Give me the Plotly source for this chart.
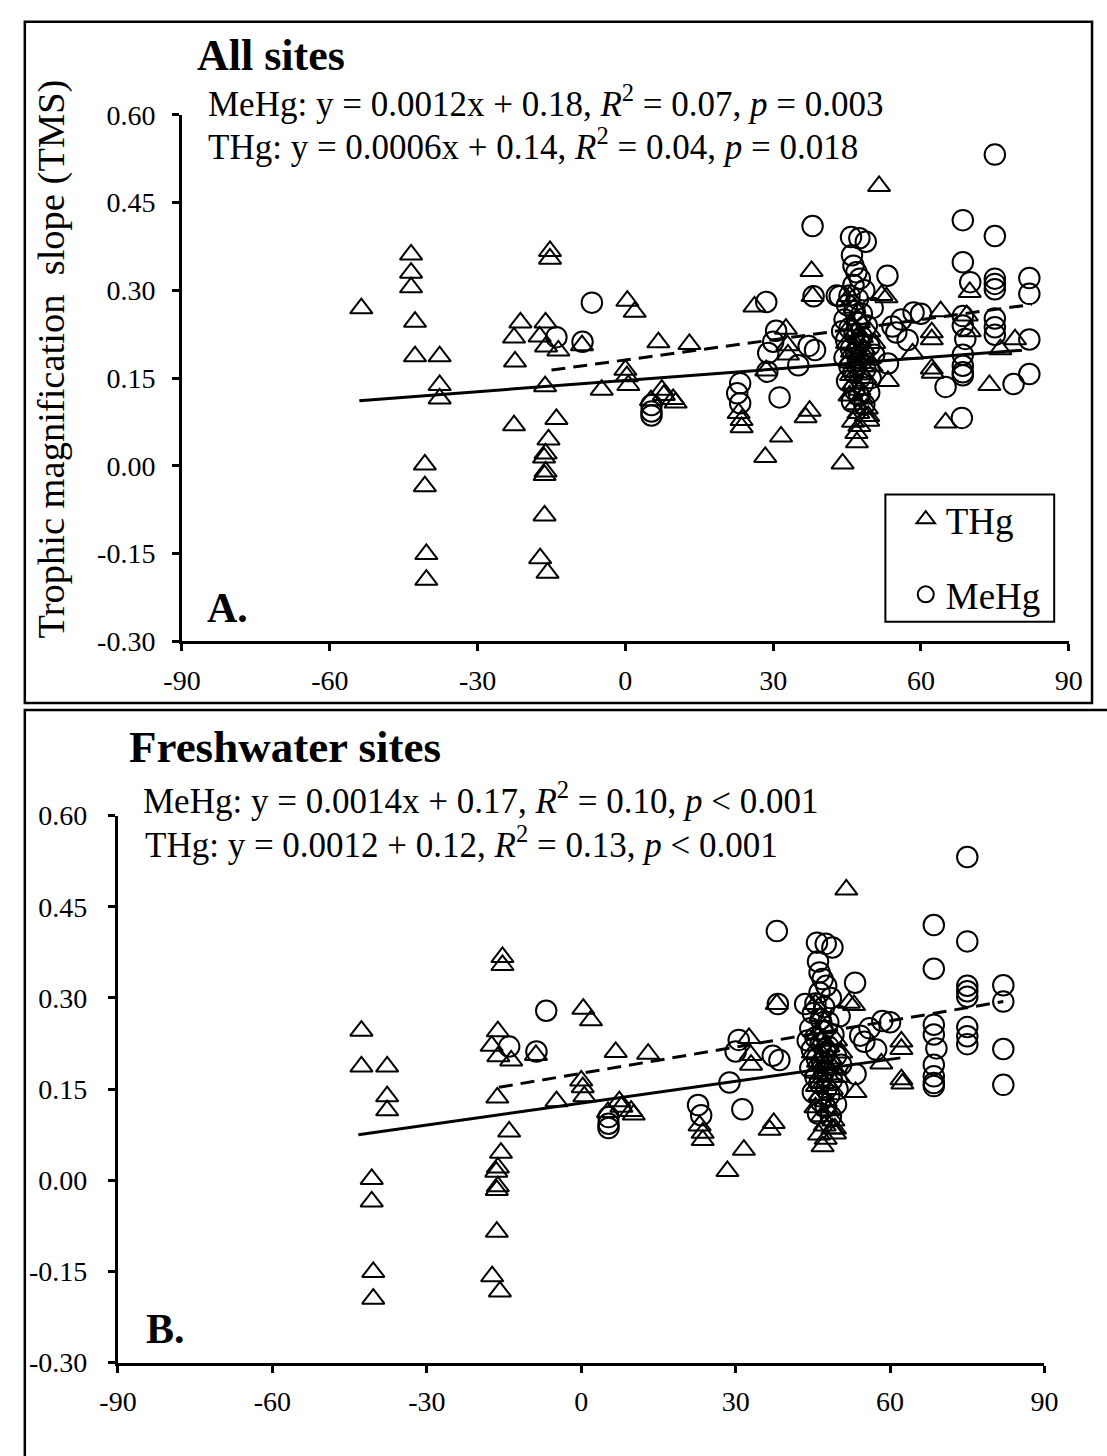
import numpy as np
import plotly.graph_objects as go

# ---------------- data ----------------
# Freshwater sites (panel B); panel A = freshwater + other sites
fw_thg_x = [-42.7, -42.7, -37.7, -37.7, -37.7, -40.7, -40.7, -40.4, -40.4,
            -16.2, -17.4, -16.1, -13.6, -16.3, -15.3, -15.3, -14.0, -15.6, -16.2, -16.5,
            -16.2, -16.4, -16.4, -17.3, -15.8,
            -8.8, -4.8, 0.4, 1.9, 0.0, 0.3, 0.6, 6.7, 7.4, 7.8, 5.2, 9.7, 10.2, 13.0,
            23.0, 23.6, 23.6, 28.4, 31.6, 32.6, 32.9, 33.0, 37.4, 36.6, 38.0,
            51.5, 52.0, 53.0, 53.3, 58.3, 62.2, 62.2, 62.2, 62.4,
            45.5, 46.5, 47.3, 45.8, 46.8, 48.0, 45.0, 47.0, 48.5, 46.0, 47.5, 49.0,
            45.5, 46.7, 48.2, 47.0, 45.8, 48.7, 46.3, 47.5, 45.5, 48.0, 46.7, 49.0,
            47.3, 48.8, 46.2, 46.9, 47.5, 50.5, 50.0, 49.5, 49.3, 49.3]
fw_thg_y = [0.246, 0.187, 0.187, 0.138, 0.115, 0.002, -0.035, -0.151, -0.195,
            0.245, 0.221, 0.204, 0.197, 0.136, 0.367, 0.354, 0.080, 0.045, 0.021, 0.014,
            -0.010, -0.016, -0.085, -0.158, -0.183,
            0.206, 0.130, 0.282, 0.263, 0.164, 0.153, 0.138, 0.211, 0.130, 0.121, 0.112, 0.114, 0.108, 0.208,
            0.090, 0.078, 0.066, 0.015, 0.050, 0.234, 0.206, 0.190, 0.094, 0.083, 0.290,
            0.478, 0.292, 0.288, 0.145, 0.192, 0.228, 0.216, 0.166, 0.159,
            0.290, 0.270, 0.250, 0.240, 0.230, 0.220, 0.210, 0.205, 0.200, 0.195, 0.190, 0.185,
            0.180, 0.175, 0.170, 0.160, 0.155, 0.150, 0.140, 0.130, 0.120, 0.115, 0.105, 0.098,
            0.090, 0.085, 0.075, 0.056, 0.068, 0.210, 0.170, 0.230, 0.085, 0.077]

fw_mehg_x = [-6.8, -8.7, -14.0, 5.3, 5.3, 5.3, 22.7, 23.3, 28.8, 31.3, 30.6, 30.0,
             38.0, 38.2, 37.2, 38.5,
             68.5, 68.5, 75.0, 75.0, 75.0, 75.0, 75.0, 75.0, 75.0, 75.0,
             68.5, 68.5, 69.0, 68.5, 68.5, 68.5, 68.5, 82.0, 82.0, 82.0, 82.0,
             53.2, 58.5, 56.0, 54.2, 55.0, 53.3, 57.3, 60.0,
             45.8, 47.5, 48.8, 46.0, 46.3, 46.9, 47.6, 46.3, 45.5, 48.5, 47.2, 45.0,
             46.5, 48.0, 44.5, 47.0, 49.0, 45.5, 46.5, 48.0, 44.8, 47.5, 49.5, 45.8,
             46.8, 48.3, 44.5, 47.2, 45.5, 48.7, 46.3, 47.6, 45.0, 48.2, 46.5, 47.5,
             49.5, 46.0, 48.5, 43.5, 50.2, 50.5, 44.0, 49.8]
fw_mehg_y = [0.279, 0.212, 0.220, 0.104, 0.093, 0.086, 0.124, 0.107, 0.161, 0.117, 0.231, 0.212,
             0.410, 0.290, 0.205, 0.198,
             0.420, 0.348, 0.532, 0.393, 0.320, 0.311, 0.302, 0.252, 0.237, 0.224,
             0.256, 0.240, 0.217, 0.190, 0.171, 0.160, 0.155, 0.321, 0.294, 0.216, 0.157,
             0.325, 0.262, 0.250, 0.238, 0.228, 0.175, 0.215, 0.260,
             0.391, 0.389, 0.383, 0.360, 0.342, 0.331, 0.320, 0.309, 0.291, 0.300, 0.285, 0.275,
             0.265, 0.260, 0.250, 0.245, 0.240, 0.235, 0.225, 0.220, 0.215, 0.210, 0.205, 0.200,
             0.195, 0.190, 0.185, 0.180, 0.170, 0.165, 0.160, 0.150, 0.145, 0.140, 0.130, 0.120,
             0.125, 0.110, 0.105, 0.290, 0.270, 0.190, 0.230, 0.150]

# Other (non-freshwater) sites, only in panel A
oth_thg_x = [-53.6, -43.5, -43.5, -43.5, -21.3, -22.6, -22.4, -22.6, 26.2, 28.6, 37.8,
             44.1, 47.0, 64.0, 69.9, 69.3, 69.9, 79.1, 76.1, 73.9, 65.0]
oth_thg_y = [0.269, 0.361, 0.330, 0.305, 0.245, 0.219, 0.178, 0.069, 0.272, 0.163, 0.333,
             0.004, 0.040, 0.264, 0.297, 0.257, 0.230, 0.216, 0.199, 0.138, 0.074]
oth_mehg_x = [23.3, 29.0, 35.1, 28.6, 42.9, 65.0, 68.3, 78.8, 70.0]
oth_mehg_y = [0.141, 0.193, 0.172, 0.280, 0.291, 0.135, 0.082, 0.140, 0.314]

# Regression lines as drawn: [slope, intercept], x extent
all_thg_fit = [0.00064, 0.146]; all_thg_xr = [-54.0, 80.5]
all_mehg_fit = [0.00115, 0.181]; all_mehg_xr = [-15.0, 82.5]
fw_thg_fit = [0.0012, 0.127]; fw_thg_xr = [-43.3, 62.0]
fw_mehg_fit = [0.00144, 0.176]; fw_mehg_xr = [-16.0, 82.0]

x_ticks = [-90, -60, -30, 0, 30, 60, 90]
x_ticktext = ["-90", "-60", "-30", "0", "30", "60", "90"]
y_ticks = [0.60, 0.45, 0.30, 0.15, 0.00, -0.15, -0.30]
y_ticktext = ["0.60", "0.45", "0.30", "0.15", "0.00", "-0.15", "-0.30"]

# ---------------- figure ----------------
W, H = 1107, 1456
FONT = "Liberation Serif, Times New Roman, serif"

def px(x):
    return x / W

def py(y):
    return 1 - y / H

all_thg_x = fw_thg_x + oth_thg_x
all_thg_y = fw_thg_y + oth_thg_y
all_mehg_x = fw_mehg_x + oth_mehg_x
all_mehg_y = fw_mehg_y + oth_mehg_y

tri = dict(symbol="triangle-up-open", size=19.5, color="black", line=dict(width=2, color="black"))
cir = dict(symbol="circle-open", size=20.5, color="black", line=dict(width=2, color="black"))

fig = go.Figure()

# panel A
fig.add_trace(go.Scatter(x=all_mehg_x, y=all_mehg_y, mode="markers", marker=cir,
                         name="MeHg", legendgroup="b", legendrank=2, xaxis="x", yaxis="y"))
fig.add_trace(go.Scatter(x=all_thg_x, y=all_thg_y, mode="markers", marker=tri,
                         name="THg", legendgroup="a", legendrank=1, xaxis="x", yaxis="y"))

def fit_line(fit, xr):
    xs = np.array(xr)
    return xs, fit[0] * xs + fit[1]

lx, ly = fit_line(all_thg_fit, all_thg_xr)
fig.add_trace(go.Scatter(x=lx, y=ly, mode="lines", line=dict(color="black", width=3),
                         showlegend=False, xaxis="x", yaxis="y"))
lx, ly = fit_line(all_mehg_fit, all_mehg_xr)
fig.add_trace(go.Scatter(x=lx, y=ly, mode="lines", line=dict(color="black", width=3, dash="14px,8px"),
                         showlegend=False, xaxis="x", yaxis="y"))

# panel B
fig.add_trace(go.Scatter(x=fw_mehg_x, y=fw_mehg_y, mode="markers", marker=cir,
                         showlegend=False, xaxis="x2", yaxis="y2"))
fig.add_trace(go.Scatter(x=fw_thg_x, y=fw_thg_y, mode="markers", marker=tri,
                         showlegend=False, xaxis="x2", yaxis="y2"))
lx, ly = fit_line(fw_thg_fit, fw_thg_xr)
fig.add_trace(go.Scatter(x=lx, y=ly, mode="lines", line=dict(color="black", width=3),
                         showlegend=False, xaxis="x2", yaxis="y2"))
lx, ly = fit_line(fw_mehg_fit, fw_mehg_xr)
fig.add_trace(go.Scatter(x=lx, y=ly, mode="lines", line=dict(color="black", width=3, dash="14px,8px"),
                         showlegend=False, xaxis="x2", yaxis="y2"))

axis_common = dict(showline=True, linecolor="black", linewidth=3, ticks="outside",
                   ticklen=7, tickwidth=3, tickcolor="black", showgrid=False, zeroline=False,
                   tickfont=dict(family=FONT, size=28, color="black"))

fig.update_layout(
    width=W, height=H,
    margin=dict(l=0, r=0, t=0, b=0),
    paper_bgcolor="white", plot_bgcolor="white",
    xaxis=dict(domain=[px(168), px(1082)], range=[-90, 90], tickvals=x_ticks, ticktext=x_ticktext,
               anchor="y", ticklabelstandoff=5, **axis_common),
    yaxis=dict(domain=[py(640), py(102)], range=[-0.30, 0.60], tickvals=y_ticks, ticktext=y_ticktext,
               anchor="x", ticklabelstandoff=11, **axis_common),
    xaxis2=dict(domain=[px(102), px(1057)], range=[-90, 90], tickvals=x_ticks, ticktext=x_ticktext,
                anchor="y2", ticklabelstandoff=5, **axis_common),
    yaxis2=dict(domain=[py(1377), py(818)], range=[-0.30, 0.60], tickvals=y_ticks, ticktext=y_ticktext,
                anchor="x2", ticklabelstandoff=15, **axis_common),
    showlegend=True,
    legend=dict(x=px(914), y=py(484), xanchor="left", yanchor="top",
                borderwidth=0, bgcolor="rgba(0,0,0,0)",
                font=dict(family=FONT, size=37, color="black"),
                tracegroupgap=24, traceorder="grouped"),
    shapes=[
        dict(type="rect", xref="paper", yref="paper", x0=px(6), x1=px(1106), y0=py(703), y1=py(7),
             line=dict(color="black", width=2.5)),
        dict(type="rect", xref="paper", yref="paper", x0=px(6), x1=px(1160), y0=py(1520), y1=py(710),
             line=dict(color="black", width=2.5)),
        # legend frame
        dict(type="rect", xref="paper", yref="paper", x0=px(893), x1=px(1067), y0=py(620), y1=py(490),
             line=dict(color="black", width=2)),
    ],
)

ann = []
def add_text(text, x, y, size, bold=False, xanchor="left", angle=0):
    ann.append(dict(text=("<b>%s</b>" % text) if bold else text, x=px(x), y=py(y),
                    xref="paper", yref="paper", xanchor=xanchor, yanchor="middle",
                    showarrow=False, textangle=angle,
                    font=dict(family=FONT, size=size, color="black")))

add_text("All sites", 181, 41, 44, bold=True)
add_text("MeHg: y = 0.0012x + 0.18, <i>R</i><sup>2</sup> = 0.07, <i>p</i> = 0.003", 193, 88, 35)
add_text("THg: y = 0.0006x + 0.14, <i>R</i><sup>2</sup> = 0.04, <i>p</i> = 0.018", 193, 132, 35)
add_text("A.", 192, 606, 42, bold=True)
add_text("Trophic magnification  slope (TMS)", 33, 352, 38.5, xanchor="center", angle=-90)

add_text("Freshwater sites", 111, 748, 45, bold=True)
add_text("MeHg: y = 0.0014x + 0.17, <i>R</i><sup>2</sup> = 0.10, <i>p</i> &lt; 0.001", 126, 801, 35)
add_text("THg: y = 0.0012 + 0.12, <i>R</i><sup>2</sup> = 0.13, <i>p</i> &lt; 0.001", 128, 845, 35)
add_text("B.", 129, 1343, 42, bold=True)

fig.update_layout(annotations=ann)

fig.write_html("out.html")
